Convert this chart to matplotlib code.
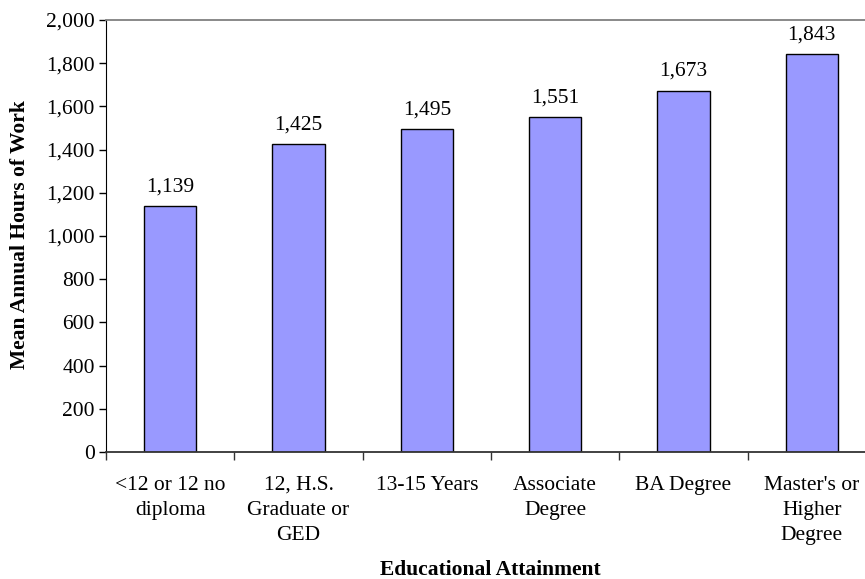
import matplotlib

matplotlib.use('Agg')
import matplotlib.pyplot as plt
from matplotlib.ticker import FuncFormatter

# Mean annual hours of work by educational attainment
categories = ["<12 or 12 no\ndiploma", "12, H.S.\nGraduate or\nGED", "13-15 Years",
              "Associate\nDegree", "BA Degree", "Master's or\nHigher\nDegree"]
hours = [1139, 1425, 1495, 1551, 1673, 1843]
y_ticks = list(range(0, 2001, 200))


def main():
    plt.rcParams['font.family'] = ['Liberation Serif', 'DejaVu Serif']
    fs = 15.5
    W, H = 865, 579
    fig = plt.figure(figsize=(W / 100, H / 100), dpi=100)
    # plot area runs past the right edge of the image in the original
    left, right, top, bottom = 106, 876, 20, 452
    ax = fig.add_axes([left / W, 1 - bottom / H, (right - left) / W, (bottom - top) / H])

    x = range(len(categories))
    ax.bar(x, hours, width=0.41, color='#9999FF', edgecolor='black', linewidth=1.0, zorder=2)
    for xi, v in zip(x, hours):
        ax.annotate(f"{v:,}", (xi, v), xytext=(0, 7), textcoords='offset points',
                    ha='center', va='bottom', fontsize=fs)

    ax.set_xlim(-0.5, len(categories) - 0.5)
    ax.set_ylim(0, 2000)
    ax.set_yticks(y_ticks)
    ax.yaxis.set_major_formatter(FuncFormatter(lambda v, p: f"{int(v):,}"))
    ax.set_xticks([i + 0.5 for i in range(-1, len(categories))], minor=False)
    ax.set_xticklabels([])
    ax.set_xticks(list(x), minor=True)
    ax.set_xticklabels(categories, minor=True, fontsize=fs, linespacing=1.45, va='top')
    ax.tick_params(axis='x', which='minor', length=0, pad=17)
    ax.tick_params(axis='x', which='major', length=6, direction='out', width=1, color='#333333')
    ax.tick_params(axis='y', length=5, direction='out', width=1, labelsize=fs, pad=3)

    ax.spines['top'].set_color('#808080')
    ax.spines['top'].set_linewidth(1.3)
    ax.spines['right'].set_visible(False)
    ax.spines['left'].set_color('black')
    ax.spines['bottom'].set_color('#333333')
    ax.spines['bottom'].set_linewidth(1.3)

    fig.text(20 / W, 1 - 235 / H, "Mean Annual Hours of Work", rotation=90, ha='center', va='center',
             fontsize=fs, fontweight='bold')
    fig.text(490 / W, 1 - 570 / H, "Educational Attainment", ha='center', va='center',
             fontsize=fs, fontweight='bold')

    plt.savefig("out.png", dpi=100)
    plt.close()


if __name__ == "__main__":
    main()
